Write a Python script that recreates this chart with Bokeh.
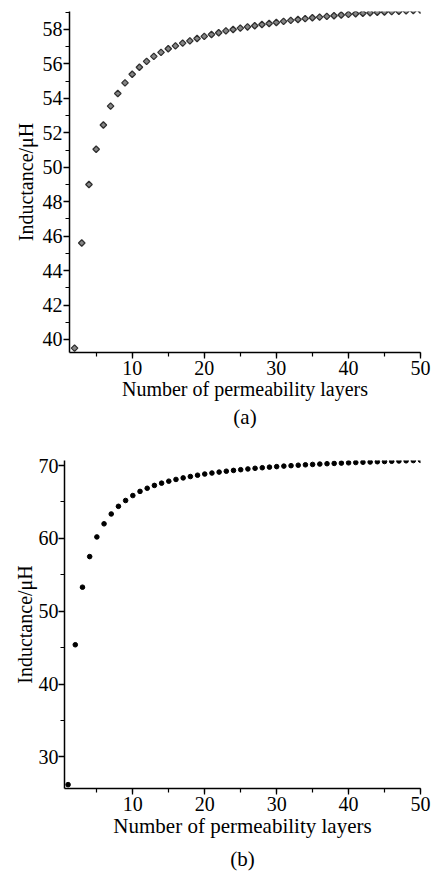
import math
from bokeh.plotting import figure
from bokeh.layouts import column
from bokeh.models import Range1d, SingleIntervalTicker, Title
from bokeh.embed import file_html
from bokeh.resources import INLINE

# ---- data (a) ----
layers_a = list(range(2, 51))
induct_a = [39.5, 45.6, 49.0, 51.05, 52.45, 53.55, 54.28, 54.9, 55.4, 55.81,
            56.15, 56.44, 56.67, 56.88, 57.05, 57.21, 57.34, 57.48, 57.6, 57.71,
            57.81, 57.92, 58.0, 58.08, 58.15, 58.22, 58.29, 58.35, 58.41, 58.47,
            58.53, 58.58, 58.63, 58.68, 58.72, 58.76, 58.8, 58.84, 58.88, 58.91,
            58.94, 58.97, 59.0, 59.02, 59.04, 59.06, 59.08, 59.1, 59.12]

# ---- data (b) ----
layers_b = list(range(1, 51))
induct_b = [26.2, 45.4, 53.3, 57.5, 60.2, 62.0, 63.35, 64.4, 65.2, 65.88,
            66.45, 66.88, 67.27, 67.58, 67.85, 68.09, 68.3, 68.49, 68.67, 68.83,
            68.97, 69.1, 69.22, 69.33, 69.43, 69.53, 69.62, 69.7, 69.78, 69.85,
            69.92, 69.98, 70.04, 70.1, 70.15, 70.2, 70.25, 70.29, 70.33, 70.37,
            70.41, 70.45, 70.48, 70.52, 70.55, 70.58, 70.62, 70.65, 70.68, 70.72]

x_label = "Number of permeability layers"
y_label = "Inductance/\u03bcH"
FONT = "Liberation Serif"


def style(p, yint, xlabel_size, ylab_standoff, ytick_standoff):
    p.xaxis.axis_label = x_label
    p.yaxis.axis_label = y_label
    p.xaxis.ticker = SingleIntervalTicker(interval=10, num_minor_ticks=2)
    p.yaxis.ticker = SingleIntervalTicker(interval=yint, num_minor_ticks=2)
    for ax in (p.xaxis[0], p.yaxis[0]):
        ax.axis_line_color = "black"
        ax.axis_line_width = 1.5
        ax.major_tick_line_color = "black"
        ax.minor_tick_line_color = "black"
        ax.major_tick_line_width = 1.3
        ax.minor_tick_line_width = 1.2
        ax.major_tick_in = 0
        ax.minor_tick_in = 0
        ax.major_tick_out = 6
        ax.minor_tick_out = 4
        ax.major_label_text_font = FONT
        ax.major_label_text_font_size = "20px"
        ax.major_label_text_color = "black"
        ax.axis_label_text_font = FONT
        ax.axis_label_text_font_style = "normal"
        ax.axis_label_text_color = "black"
    p.xaxis.axis_label_text_font_size = xlabel_size
    p.yaxis.axis_label_text_font_size = "20px"
    p.xaxis.major_label_standoff = 2
    p.yaxis.major_label_standoff = ytick_standoff
    p.xaxis.axis_label_standoff = 0
    p.yaxis.axis_label_standoff = ylab_standoff
    p.xgrid.visible = False
    p.ygrid.visible = False
    p.outline_line_color = None


# ---- figure (a) ----  (shifted 5px right so its axis sits at x=69)
pa = figure(width=432, frame_height=341, output_backend="svg",
            toolbar_location=None,
            x_range=Range1d(1.3, 50), y_range=Range1d(39.245, 59.045),
            min_border_left=64, min_border_right=17, min_border_top=11,
            min_border_bottom=0)
pa.margin = (0, 0, 0, 5)
style(pa, 2, "20px", 3, 1)
pa.scatter(layers_a, induct_a, marker="square", angle=math.pi / 4, size=4.6,
           fill_color="#858585", line_color="#303030", line_width=1.3)
pa.add_layout(Title(text="(a)", align="center", text_font=FONT,
                    text_font_size="21px", text_font_style="normal",
                    text_color="black", standoff=0), "below")

# ---- figure (b) ----
pb = figure(width=437, frame_height=328, output_backend="svg",
            toolbar_location=None,
            x_range=Range1d(0.5, 50), y_range=Range1d(25.67, 70.69),
            min_border_left=64, min_border_right=17, min_border_top=32,
            min_border_bottom=0)
style(pb, 10, "21px", 0, 0)
pb.scatter(layers_b, induct_b, marker="circle", size=4.6,
           fill_color="black", line_color="black")
pb.add_layout(Title(text="(b)", align="center", text_font=FONT,
                    text_font_size="21px", text_font_style="normal",
                    text_color="black", standoff=8), "below")

layout = column(pa, pb, spacing=0)
open("out.html", "w").write(file_html(layout, INLINE))
